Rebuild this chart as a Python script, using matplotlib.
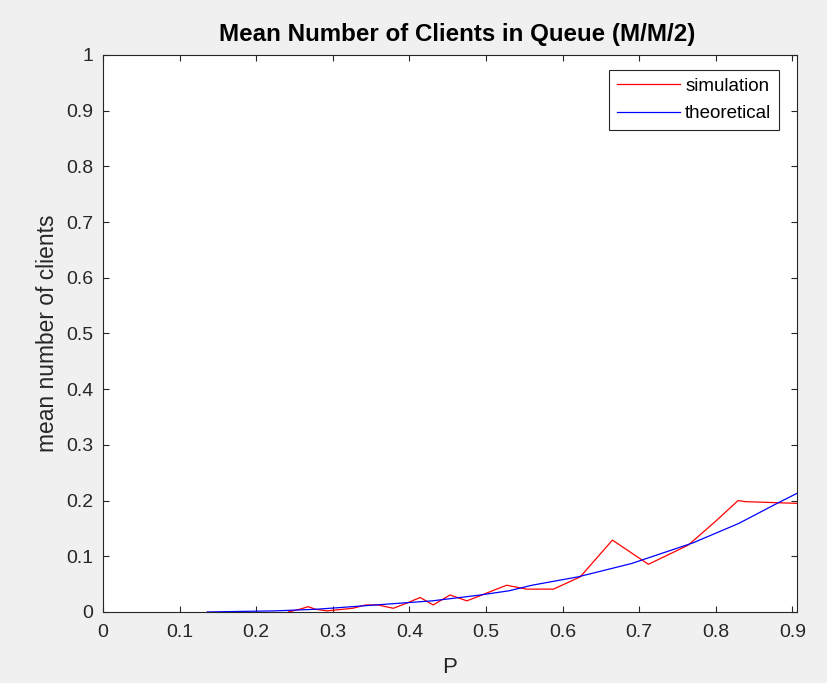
import matplotlib.pyplot as plt

# simulated mean queue length (M/M/2)
p_sim = [0.242, 0.257, 0.268, 0.277, 0.292, 0.326, 0.343, 0.359, 0.379, 0.396,
         0.414, 0.431, 0.453, 0.475, 0.492, 0.510, 0.527, 0.553, 0.588, 0.623,
         0.644, 0.665, 0.712, 0.764, 0.799, 0.829, 0.839, 0.906]
lq_sim = [0.0, 0.005, 0.0095, 0.005, 0.002, 0.0066, 0.0126, 0.0126, 0.0066, 0.0156,
          0.026, 0.0126, 0.0305, 0.020, 0.029, 0.039, 0.048, 0.041, 0.041, 0.063,
          0.096, 0.129, 0.0856, 0.120, 0.162, 0.200, 0.198, 0.195]

# theoretical curve
p_th = [0.136, 0.226, 0.28, 0.32, 0.37, 0.43, 0.49, 0.53, 0.56, 0.62,
        0.69, 0.77, 0.83, 0.88, 0.906]
lq_th = [0.0, 0.002, 0.005, 0.009, 0.014, 0.020, 0.030, 0.038, 0.048, 0.063,
         0.087, 0.124, 0.159, 0.195, 0.213]

xticks = [0, 0.1, 0.2, 0.3, 0.4, 0.5, 0.6, 0.7, 0.8, 0.9]
yticks = [0, 0.1, 0.2, 0.3, 0.4, 0.5, 0.6, 0.7, 0.8, 0.9, 1]

plt.rcParams['font.family'] = ['Liberation Sans', 'DejaVu Sans']
dark = '#262626'

fig = plt.figure(figsize=(8.28, 6.83), dpi=100, facecolor='#f0f0f0')
ax = fig.add_axes([0.1244, 0.104, 0.8382, 0.8155])

ax.plot(p_sim, lq_sim, color='red', lw=0.9, label='simulation')
ax.plot(p_th, lq_th, color='blue', lw=0.9, label='theoretical')

ax.set_xlim(0, 0.906)
ax.set_ylim(0, 1)
ax.set_xticks(xticks)
ax.set_xticklabels([f'{t:g}' for t in xticks])
ax.set_yticks(yticks)
ax.set_yticklabels([f'{t:g}' for t in yticks])
ax.tick_params(direction='in', top=True, right=True, length=4, width=0.8,
               colors=dark, labelsize=14, pad=7)
ax.tick_params(axis='x', pad=9)
for s in ax.spines.values():
    s.set_color(dark)
    s.set_linewidth(0.8)

ax.set_title('Mean Number of Clients in Queue (M/M/2)', fontsize=17.4,
             fontweight='bold', color='black', pad=10, x=0.51)
ax.set_xlabel('P', fontsize=16, color=dark, labelpad=11)
ax.set_ylabel('mean number of clients', fontsize=16.4, color=dark, labelpad=5)

leg = ax.legend(loc='upper right', bbox_to_anchor=(0.974, 0.973),
                fontsize=13.5, fancybox=False, edgecolor=dark, framealpha=1,
                handlelength=3.36, handletextpad=0.3, borderpad=0.4,
                labelspacing=0.55, borderaxespad=0)
leg.get_frame().set_linewidth(0.8)

fig.savefig('out.png', dpi=100, facecolor=fig.get_facecolor())
